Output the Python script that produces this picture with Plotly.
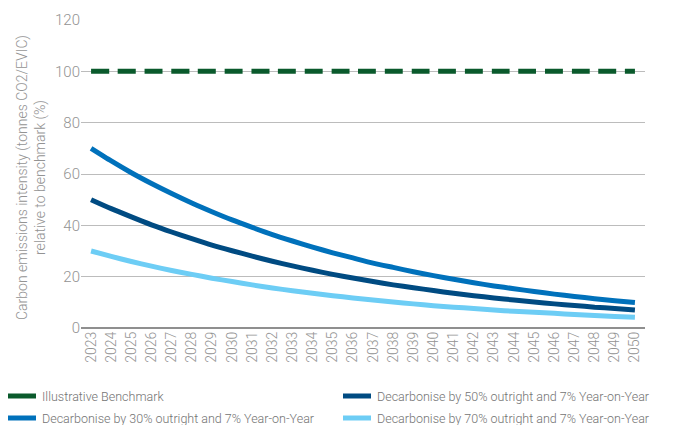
import plotly.graph_objects as go

# Years on the x axis
years = [str(y) for y in range(2023, 2051)]

# Carbon intensity relative to benchmark (%)
benchmark = [100.0] * 28
decarb_30 = [70.0, 65.1, 60.5, 56.3, 52.4, 48.7, 45.3, 42.1, 39.2, 36.4, 33.9, 31.5, 29.3, 27.3,
             25.3, 23.6, 21.9, 20.4, 19.0, 17.6, 16.4, 15.3, 14.2, 13.2, 12.3, 11.4, 10.6, 9.9]
decarb_50 = [50.0, 46.5, 43.3, 40.2, 37.4, 34.8, 32.3, 30.1, 28.0, 26.0, 24.2, 22.5, 20.9, 19.5,
             18.1, 16.8, 15.7, 14.6, 13.5, 12.6, 11.7, 10.9, 10.1, 9.4, 8.8, 8.1, 7.6, 7.0]
decarb_70 = [30.0, 27.9, 25.9, 24.1, 22.4, 20.9, 19.4, 18.1, 16.8, 15.6, 14.5, 13.5, 12.6, 11.7,
             10.9, 10.1, 9.4, 8.7, 8.1, 7.6, 7.0, 6.5, 6.1, 5.7, 5.3, 4.9, 4.5, 4.2]

names = [
    "Illustrative Benchmark",
    "Decarbonise by 50% outright and 7% Year-on-Year",
    "Decarbonise by 30% outright and 7% Year-on-Year",
    "Decarbonise by 70% outright and 7% Year-on-Year",
]
colors = ["#0a5a2c", "#004b82", "#0071bb", "#6dcdf5"]
y_ticks = [0, 20, 40, 60, 80, 100, 120]

W, H = 678, 425
ML, MR, MT, MB = 81, 33, 20, 97
PW, PH = W - ML - MR, H - MT - MB

FONT = "Roboto"
TICK_COLOR = "#939393"
TEXT_COLOR = "#737373"

fig = go.Figure()
series = [benchmark, decarb_50, decarb_30, decarb_70]
for name, vals, col in zip(names, series, colors):
    fig.add_trace(go.Scatter(
        x=years, y=vals, mode="lines", name=name,
        line=dict(color=col, width=5, shape="spline", smoothing=0.6,
                  dash="18px,8.7px" if name == names[0] else "solid"),
        showlegend=False,
    ))

# Bottom legend drawn in two columns
def px_to_paper(px, py):
    return (px - ML) / PW, (H - MB - py) / PH

legend_slots = [(8, 396), (343, 396), (8, 418), (343, 418)]
for name, col, (sx, sy) in zip(names, colors, legend_slots):
    x0, y0 = px_to_paper(sx, sy)
    x1, _ = px_to_paper(sx + 28, sy)
    fig.add_shape(type="line", xref="paper", yref="paper",
                  x0=x0, x1=x1, y0=y0, y1=y0,
                  line=dict(color=col, width=5))
    tx, _ = px_to_paper(sx + 32, sy)
    fig.add_annotation(text=name, xref="paper", yref="paper", x=tx, y=y0,
                       xanchor="left", yanchor="middle", showarrow=False,
                       font=dict(family=FONT, size=12.5, color=TEXT_COLOR, weight=300))

# Y axis title on two lines
tx, ty = px_to_paper(31, 178)
fig.add_annotation(
    text="Carbon emissions intensity (tonnes CO2/EVIC)<br>relative to benchmark (%)",
    xref="paper", yref="paper", x=tx, y=ty, textangle=-90,
    xanchor="center", yanchor="middle", showarrow=False,
    font=dict(family=FONT, size=14, color=TICK_COLOR, weight=300),
)

fig.update_layout(
    width=W, height=H,
    margin=dict(l=ML, r=MR, t=MT, b=MB),
    paper_bgcolor="white", plot_bgcolor="white",
    font=dict(family=FONT, color=TICK_COLOR),
    xaxis=dict(
        type="category", range=[-0.5, len(years) - 0.5],
        tickangle=-90, tickfont=dict(family=FONT, size=14, color=TICK_COLOR, weight=300),
        showgrid=False, showline=False, zeroline=False, ticks="",
    ),
    yaxis=dict(
        range=[0, 120], tickvals=y_ticks,
        tickfont=dict(family=FONT, size=15, color=TICK_COLOR, weight=300),
        showgrid=True, gridcolor="#bcbcbc", gridwidth=1.2,
        zeroline=True, zerolinecolor="#8f8f8f", zerolinewidth=1.5,
        showline=False, ticks="",
    ),
)

fig.write_html("out.html")
